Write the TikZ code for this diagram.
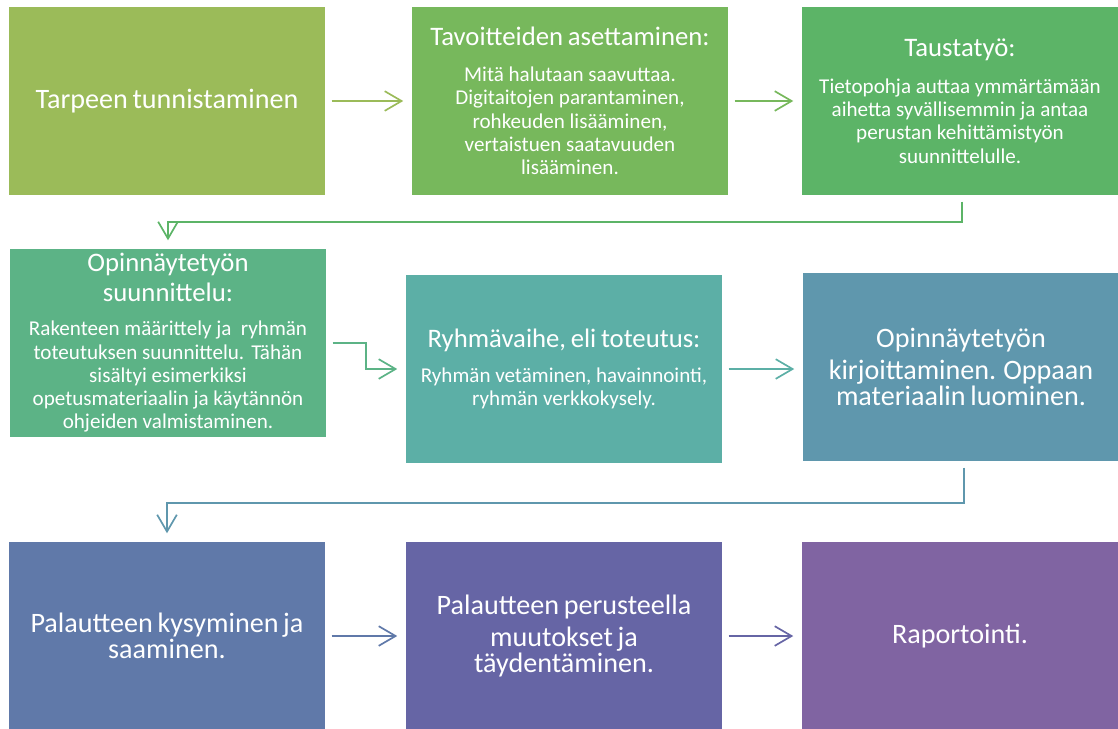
\documentclass[tikz,border=0pt]{standalone}
\usepackage{fontspec}
\setmainfont{Carlito}
\usetikzlibrary{arrows.meta, positioning}
\definecolor{mOlive}{HTML}{9BBB59}
\definecolor{mGreen}{HTML}{77B85C}
\definecolor{mMidGreen}{HTML}{5CB467}
\definecolor{mSeaGreen}{HTML}{5CB386}
\definecolor{mTeal}{HTML}{5CAFA6}
\definecolor{mSteel}{HTML}{5F97AD}
\definecolor{mBlue}{HTML}{6079A9}
\definecolor{mIndigo}{HTML}{6665A5}
\definecolor{mPurple}{HTML}{8064A2}
\newcommand{\bigtxt}{\fontsize{20}{22.4}\selectfont}
\newcommand{\headtxt}{\fontsize{19}{21}\selectfont}
\newcommand{\bodytxt}{\fontsize{15}{16.5}\selectfont}

\begin{document}
\begin{tikzpicture}[x=0.025cm, y=-0.025cm,
    box/.style={fill=#1, text=white, minimum width=7.9cm, minimum height=4.7cm, inner sep=0pt, text width=7.7cm, align=center},
    link/.style={draw=#1, line width=1.2pt, -{Straight Barb[length=12pt, width=14pt]}, shorten <=4.5pt, shorten >=6pt}]
  \useasboundingbox (0,0) rectangle (1118,729);
  \node[box=mOlive]    (need)  at (167,101) {\bigtxt Tarpeen tunnistaminen};
  \node[box=mGreen]    (goals) at (570,101) {{\headtxt Tavoitteiden asettaminen:\par}\vspace{9pt}{\bodytxt Mitä halutaan saavuttaa.\\ Digitaitojen parantaminen,\\ rohkeuden lisääminen,\\ vertaistuen saatavuuden\\ lisääminen.\par}};
  \node[box=mMidGreen] (bg)    at (960,101) {{\headtxt Taustatyö:\par}\vspace{10pt}{\bodytxt Tietopohja auttaa ymmärtämään\\ aihetta syvällisemmin ja antaa\\ perustan kehittämistyön\\ suunnittelulle.\par}};
  \node[box=mSeaGreen] (plan)  at (168,343) {{\headtxt Opinnäytetyön\\ suunnittelu:\par}\vspace{8pt}{\bodytxt Rakenteen määrittely ja\ \ ryhmän\\ toteutuksen suunnittelu. Tähän\\ sisältyi esimerkiksi\\ opetusmateriaalin ja käytännön\\ ohjeiden valmistaminen.\par}};
  \node[box=mTeal]     (group) at (564,369) {{\headtxt Ryhmävaihe, eli toteutus:\par}\vspace{8pt}{\bodytxt Ryhmän vetäminen, havainnointi,\\ ryhmän verkkokysely.\par}};
  \node[box=mSteel]    (write) at (961,367) {\bigtxt Opinnäytetyön\\ kirjoittaminen. Oppaan\\ materiaalin luominen.};
  \node[box=mBlue]     (ask)   at (167,636) {\bigtxt Palautteen kysyminen ja\\ saaminen.};
  \node[box=mIndigo]   (fix)   at (564,636) {\bigtxt Palautteen perusteella\\ muutokset ja\\ täydentäminen.};
  \node[box=mPurple]   (rep)   at (960,636) {\bigtxt Raportointi.};
  \draw[link=mOlive] (need) -- (goals);
  \draw[link=mGreen] (goals) -- (bg);
  \draw[link=mMidGreen] ([xshift=1.5pt]bg.south) -- ++(0,27) -| (plan.north);
  \draw[link=mSeaGreen] (plan.east) -- ++(40,0) |- (group.west);
  \draw[link=mTeal] (group.east) -- (group.east -| write.west);
  \draw[link=mSteel] ([xshift=2pt]write.south) -- ++(0,42) -| (ask.north);
  \draw[link=mBlue] (ask) -- (fix);
  \draw[link=mIndigo] (fix) -- (rep);
\end{tikzpicture}
\end{document}
